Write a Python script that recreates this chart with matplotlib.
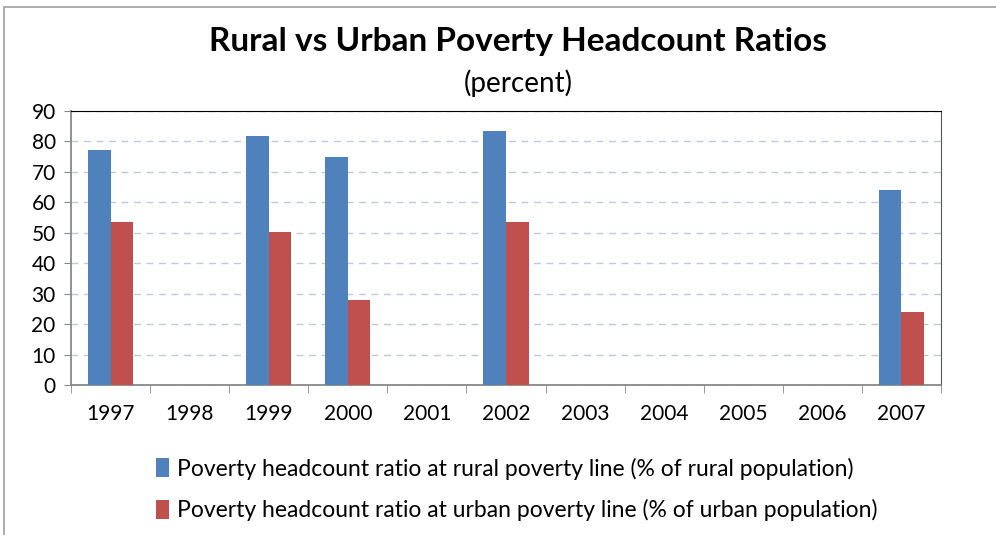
import numpy as np
import matplotlib.pyplot as plt
from matplotlib.patches import Rectangle

plt.rcParams['font.family'] = ['Liberation Sans Narrow', 'Lato', 'DejaVu Sans']

# data (nan = no value that year)
years = ['1997', '1998', '1999', '2000', '2001', '2002', '2003', '2004', '2005', '2006', '2007']
rural = [77.2, np.nan, 81.7, 74.8, np.nan, 83.4, np.nan, np.nan, np.nan, np.nan, 64.0]
urban = [53.6, np.nan, 50.3, 27.8, np.nan, 53.6, np.nan, np.nan, np.nan, np.nan, 23.8]

rural_label = 'Poverty headcount ratio at rural poverty line (% of rural population)'
urban_label = 'Poverty headcount ratio at urban poverty line (% of urban population)'

fig = plt.figure(figsize=(9.96, 5.35), dpi=100)
ax = fig.add_axes([0.0713, 0.2804, 0.8735, 0.5127])

# outer chart border
fig.patches.append(Rectangle((4 / 996, -0.1), 1.2, 1.1 - 7 / 535, transform=fig.transFigure,
                             fill=False, edgecolor='#a0a0a0', linewidth=1.2))

x = np.arange(len(years))
w = 0.285
ax.bar(x - w / 2, rural, w, color='#4f81bd', label=rural_label, zorder=3)
ax.bar(x + w / 2, urban, w, color='#c0504d', label=urban_label, zorder=3)

ax.set_xlim(-0.5, len(years) - 0.5)
ax.set_ylim(0, 90)
ax.set_yticks(range(0, 91, 10))
ax.set_xticks(x)
ax.set_xticklabels(years, fontsize=15)
ax.tick_params(axis='x', length=0, pad=14)
# category boundary ticks
ax.set_xticks(np.arange(-0.5, len(years), 1), minor=True)
ax.tick_params(axis='x', which='minor', length=6, color='#888888', direction='out')
ax.tick_params(axis='y', labelsize=15, length=5, color='#888888', pad=6)

ax.grid(axis='y', linestyle=(0, (5, 4)), color='#bccbe0', linewidth=1, zorder=0)
ax.spines['left'].set_color('#888888')
ax.spines['bottom'].set_color('#888888')
ax.spines['top'].set_color('black')
ax.spines['right'].set_color('#555555')
ax.spines['left'].set_linewidth(1.3)
ax.spines['bottom'].set_linewidth(1.3)

fig.text(0.52, 0.922, 'Rural vs Urban Poverty Headcount Ratios', ha='center', va='center',
         fontsize=24, fontweight='bold')
fig.text(0.52, 0.845, '(percent)', ha='center', va='center', fontsize=20)

ax.legend(loc='upper left', bbox_to_anchor=(0.074, -0.19), frameon=False, fontsize=16.5,
          handlelength=0.55, handleheight=0.9, handletextpad=0.35, labelspacing=0.85)

fig.savefig('out.png', dpi=100)
